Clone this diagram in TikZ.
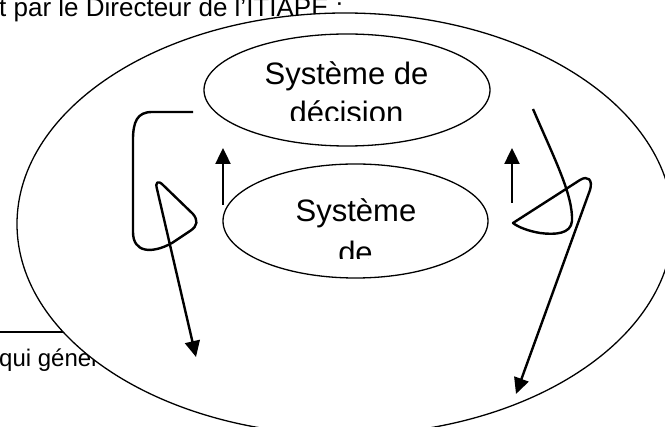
\documentclass[tikz,border=0pt]{standalone}
\usepackage{fontspec}
\setmainfont{Liberation Sans}
\usetikzlibrary{shapes.geometric,arrows.meta}
\tikzset{
  outline/.style={draw=black,line width=1.3pt,ellipse,inner sep=0pt},
  bodytext/.style={inner sep=0pt,anchor=base west,font=\fontsize{26}{30}\selectfont},
  boxtext/.style={inner sep=0pt,anchor=base,font=\fontsize{31}{36}\selectfont},
  arr/.style={line width=2.4pt,-{Triangle[length=16pt,width=15pt]}},
  curvearr/.style={line width=2.4pt,line join=round,-{Triangle[length=16pt,width=15pt]}}
}
\begin{document}
\begin{tikzpicture}[x=1pt,y=-1pt]
\useasboundingbox (0,0) rectangle (665,427);
% background texts (partly hidden by the big ellipse)
\node[bodytext] (head) at (-1,17) {t par le Directeur de l'ITIAPE :};
\node[bodytext,font=\fontsize{24}{28}\selectfont] (qui) at (-1,367) {qui génère};
\coordinate (hl1) at (0,332);
\coordinate (hl2) at (120,332);
\draw[line width=1.8pt] (hl1) -- (hl2);
% big ellipse
\node[outline,fill=white,minimum width=656pt,minimum height=422pt] (big) at (345,224) {};
% inner ellipses
\node[outline,minimum width=286pt,minimum height=112pt] (dec) at (347,90) {};
\node[outline,minimum width=265pt,minimum height=114pt] (op) at (355.5,221) {};
\begin{scope}
  \clip (200,40) rectangle (495,121);
  \node[boxtext] (dec1) at (346.5,85) {Système de};
  \node[boxtext] (dec2) at (346.5,124) {décision};
\end{scope}
\begin{scope}
  \clip (215,170) rectangle (495,259);
  \node[boxtext] (op1) at (356,222) {Système};
  \node[boxtext] (op2) at (355.5,264) {de};
\end{scope}
% small up arrows
\coordinate (la1) at (223,205);
\coordinate (la2) at (223,148);
\coordinate (ra1) at (512,203);
\coordinate (ra2) at (512,148);
\draw[arr] (la1) -- (la2);
\draw[arr] (ra1) -- (ra2);
% left curly arrow
\coordinate (lc1) at (193,112);
\coordinate (lc2) at (196,357);
\draw[curvearr] (lc1) -- (152,112) .. controls (137,112) and (133,122) .. (133,140)
  -- (133,232) .. controls (133,253) and (152,254) .. (172,243)
  -- (190,231) .. controls (198,226) and (198,220) .. (193,214)
  -- (163,185) .. controls (158,180) and (155,182) .. (157,189) -- (lc2);
% right curly arrow
\coordinate (rc1) at (533,109);
\coordinate (rc2) at (516,394);
\draw[curvearr] (rc1) .. controls (555,160) and (573,195) .. (572,221)
  .. controls (571,234) and (555,235) .. (540,233)
  .. controls (528,231) and (518,227) .. (513,223)
  -- (580,180) .. controls (588,175) and (593,180) .. (590,190) -- (rc2);
\end{tikzpicture}
\end{document}
